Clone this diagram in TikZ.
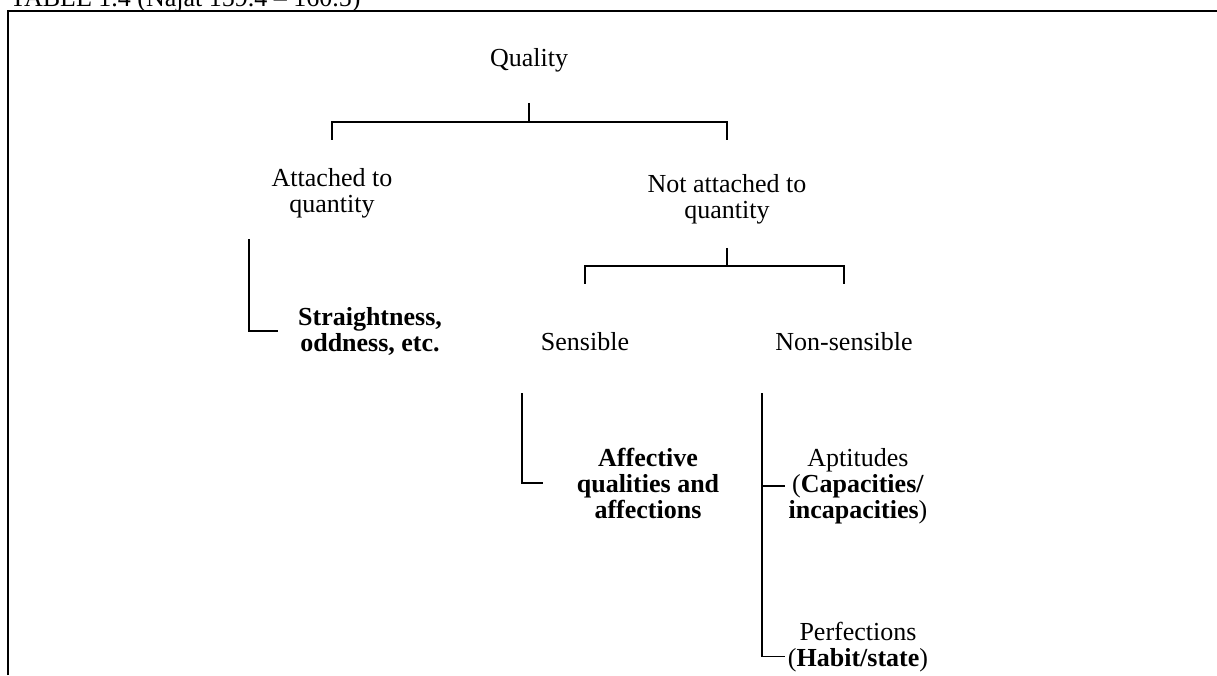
\documentclass[tikz,border=0pt]{standalone}
\usepackage{fontspec}
\setmainfont{Liberation Serif}
\tikzset{
  lbl/.style={align=center, inner sep=0pt, font=\fontsize{26}{26}\selectfont},
  blbl/.style={lbl, font=\fontsize{26}{26}\selectfont\bfseries},
  tree/.style={line width=1.6pt},
}
\begin{document}
\begin{tikzpicture}[x=1pt,y=-1pt]
  \useasboundingbox (0,0) rectangle (1217,675);
  \begin{scope}
    \clip (0,0) rectangle (1217,675);
    \node[lbl, anchor=base west] (caption) at (10,6) {TABLE 1.4 (Najāt 159.4 -- 160.5)};
  \end{scope}
  \draw[tree] (8,675) -- (8,11) -- (1217,11);

  \node[lbl, anchor=base] (quality) at (529,66) {Quality};
  \node[lbl, anchor=base] (attached) at (332,212) {Attached to\\quantity};
  \node[lbl, anchor=base] (notattached) at (727,218) {Not attached to\\quantity};
  \node[blbl, anchor=base] (straight) at (370,351) {Straightness,\\oddness, etc.};
  \node[lbl, anchor=base] (sensible) at (585,350) {Sensible};
  \node[lbl, anchor=base] (nonsensible) at (844,350) {Non-sensible};
  \node[blbl, anchor=base] (affective) at (648,518) {Affective\\qualities and\\affections};
  \node[lbl, anchor=base] (aptitudes) at (858,518) {Aptitudes\\(\textbf{Capacities/}\\\textbf{incapacities})};
  \node[lbl, anchor=base] (perfections) at (858,666) {Perfections\\(\textbf{Habit/state})};

  \coordinate (qj) at (529,122);
  \coordinate (nj) at (727,266);
  \coordinate (ls) at (249,239);
  \coordinate (ss) at (522,393);
  \coordinate (ns) at (762,393);

  \draw[tree] (quality.south) ++(0,31) -- (qj);
  \draw[tree, shorten >=28pt] (qj) -| (attached.north);
  \draw[tree, shorten >=34pt] (qj) -| (notattached.north);
  \draw[tree] (notattached.south) ++(0,24) -- (nj);
  \draw[tree, shorten >=48pt] (nj) -| (sensible.north);
  \draw[tree, shorten >=48pt] (nj) -| (nonsensible.north);
  \draw[tree, shorten >=20pt] (ls) |- (straight.west);
  \draw[tree, shorten >=34pt] (ss) |- (affective.west);
  \draw[tree, shorten >=3pt] (ns |- aptitudes.west) -- (aptitudes.west);
  \draw[tree, shorten >=3pt] (ns) |- ([yshift=-10pt]perfections.west);
\end{tikzpicture}
\end{document}
